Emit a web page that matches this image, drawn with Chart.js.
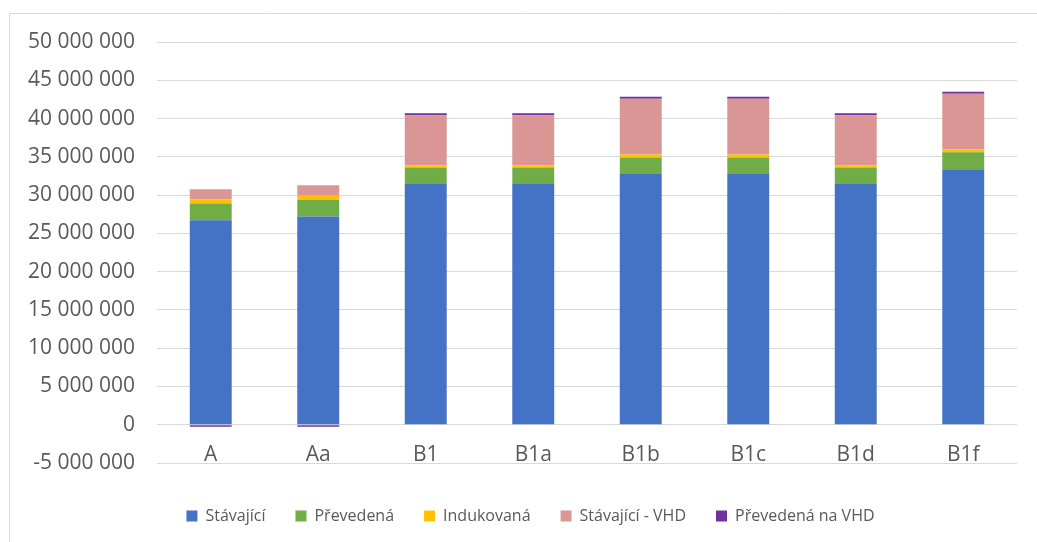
<!DOCTYPE html>
<html>
<head>
<meta charset="utf-8">
<script src="https://cdn.jsdelivr.net/npm/chart.js@4"></script>
<style>
  html, body { margin: 0; padding: 0; background: #fff; }
  #wrap { width: 1037px; height: 542px; position: relative; }
</style>
</head>
<body>
<div id="wrap"><canvas id="c" width="1037" height="542"></canvas></div>
<script>
// Variant labels along the x axis
const categories = ['A', 'Aa', 'B1', 'B1a', 'B1b', 'B1c', 'B1d', 'B1f'];

// Series values
const stavajici     = [26720000, 27190000, 31550000, 31550000, 32770000, 32770000, 31550000, 33290000];
const prevedena     = [2170000, 2180000, 2040000, 2040000, 2130000, 2130000, 2040000, 2310000];
const indukovana    = [520000, 560000, 310000, 310000, 390000, 390000, 310000, 390000];
const stavajiciVHD  = [1360000, 1360000, 6530000, 6530000, 7310000, 7310000, 6530000, 7260000];
const prevedenaVHD  = [-250000, -250000, 260000, 260000, 260000, 260000, 260000, 260000];

// Series names
const seriesNames = ['Stávající', 'Převedená', 'Indukovaná', 'Stávající - VHD', 'Převedená na VHD'];

// Value axis range
const yMin = -5000000;
const yMax = 50000000;
const yStep = 5000000;

const colors = ['#4472C4', '#70AD47', '#FFC000', '#DA9694', '#7030A0'];
const seriesValues = [stavajici, prevedena, indukovana, stavajiciVHD, prevedenaVHD];

const fmt = v => String(Math.round(v)).replace(/\B(?=(\d{3})+(?!\d))/g, ' ');

// Thin frame along the top and left edges
const framePlugin = {
  id: 'frame',
  beforeDraw(chart) {
    const ctx = chart.ctx;
    ctx.save();
    ctx.fillStyle = '#ffffff';
    ctx.fillRect(0, 0, chart.width, chart.height);
    ctx.strokeStyle = '#d9d9d9';
    ctx.lineWidth = 1;
    ctx.beginPath();
    ctx.moveTo(9.5, chart.height);
    ctx.lineTo(9.5, 13.5);
    ctx.lineTo(chart.width, 13.5);
    ctx.stroke();
    ctx.restore();
  }
};

// Nudge the legend row a little to the right
const legendShift = {
  id: 'legendShift',
  afterLayout(chart) {
    if (chart.legend) {
      chart.legend.left += 22;
      chart.legend.right += 22;
    }
  }
};

const tickFont = { family: '"Open Sans", sans-serif', size: 21 };

new Chart(document.getElementById('c'), {
  type: 'bar',
  data: {
    labels: categories,
    datasets: seriesValues.map((vals, i) => ({
      label: seriesNames[i],
      data: vals,
      backgroundColor: colors[i],
      borderWidth: 0,
      categoryPercentage: 1,
      barPercentage: 0.39
    }))
  },
  plugins: [framePlugin, legendShift],
  options: {
    responsive: false,
    animation: false,
    devicePixelRatio: 1,
    layout: { padding: { left: 0, right: 20, top: 42, bottom: 8 } },
    plugins: {
      tooltip: { enabled: false },
      legend: {
        position: 'bottom',
        labels: {
          boxWidth: 11,
          boxHeight: 11,
          padding: 30,
          color: '#595959',
          font: { family: '"Open Sans", sans-serif', size: 16 }
        }
      }
    },
    scales: {
      x: {
        stacked: true,
        position: { y: 0 },
        grid: { display: false, drawTicks: false },
        border: { display: false },
        ticks: { padding: 18, color: '#595959', font: tickFont }
      },
      // empty spacer between the plot and the legend
      gap: {
        type: 'category',
        axis: 'x',
        position: 'bottom',
        grid: { display: false, drawTicks: false },
        border: { display: false },
        ticks: { display: false },
        afterFit(scale) { scale.height = 15; }
      },
      y: {
        stacked: true,
        min: yMin,
        max: yMax,
        grid: { color: '#d9d9d9', lineWidth: 1, drawTicks: false },
        border: { display: false },
        afterFit(scale) { scale.width = 157; },
        ticks: {
          stepSize: yStep,
          padding: 22,
          color: '#595959',
          font: tickFont,
          callback: v => fmt(v)
        }
      }
    }
  }
});
</script>
</body>
</html>
